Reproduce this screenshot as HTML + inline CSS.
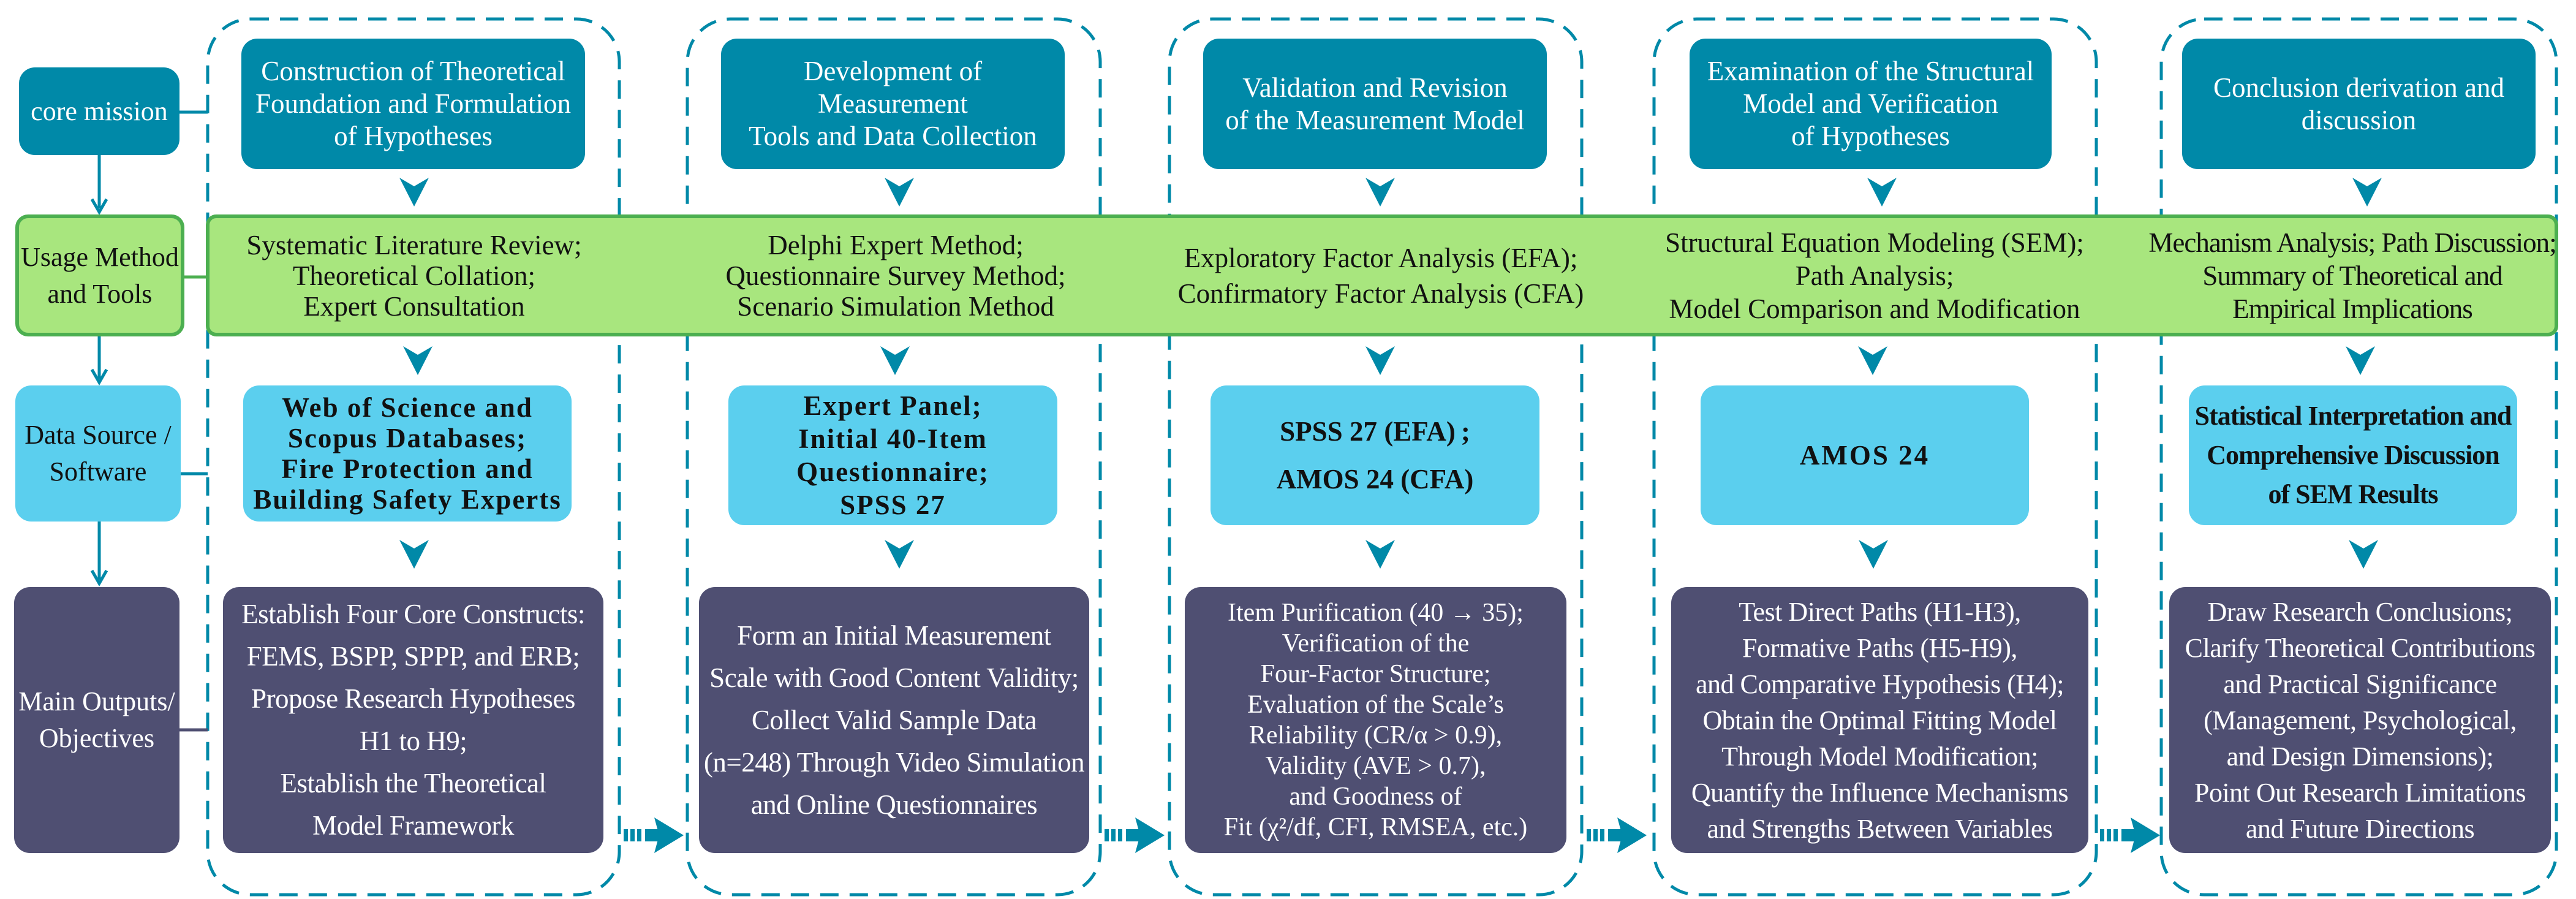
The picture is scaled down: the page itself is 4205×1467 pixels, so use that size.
<!DOCTYPE html>
<html><head><meta charset="utf-8"><style>
html,body{margin:0;padding:0;background:#fff}
body{width:4205px;height:1467px;position:relative;overflow:hidden;font-family:"Liberation Serif",serif}
.b{position:absolute;display:flex;align-items:center;justify-content:center;text-align:center;box-sizing:border-box;border-radius:26px}
.h{background:#0089a8;color:#fff;font-size:45px;line-height:53px}
.d{background:#5bcfee;color:#111;font-size:45px;line-height:50px;font-weight:bold;letter-spacing:2px}
.o{background:#4f4f72;color:#fff;font-size:45px;line-height:68px}
.g{position:absolute;display:flex;align-items:center;justify-content:center;text-align:center;font-size:45px;line-height:50px;color:#111}
svg{position:absolute;left:0;top:0}
</style></head><body>
<svg width="4205" height="1467" viewBox="0 0 4205 1467">
<defs>
<g id="chev"><path d="M-24,0 L0,14 L24,0 L0,47 Z" fill="#0089a8"/></g>
<g id="dar"><rect x="0" y="-10" width="7" height="20" fill="#0089a8"/><rect x="11" y="-10" width="7" height="20" fill="#0089a8"/><rect x="22" y="-10" width="7" height="20" fill="#0089a8"/><rect x="35" y="-10" width="24" height="20" fill="#0089a8"/><path d="M50,-29 L98,0 L50,29 L58,0 Z" fill="#0089a8"/></g>
</defs>
<g fill="none" stroke="#0089a8" stroke-width="5" stroke-dasharray="30 18">
<rect x="339" y="31" width="672" height="1429" rx="70"/>
<rect x="1122" y="31" width="674" height="1429" rx="70"/>
<rect x="1909" y="31" width="673" height="1429" rx="70"/>
<rect x="2700" y="31" width="722" height="1429" rx="70"/>
<rect x="3528" y="31" width="645" height="1429" rx="70"/>
</g>
<!-- left connectors -->
<line x1="293" y1="183" x2="339" y2="183" stroke="#0089a8" stroke-width="5"/>
<line x1="299" y1="452" x2="339" y2="452" stroke="#4caf50" stroke-width="5"/>
<line x1="295" y1="773" x2="339" y2="773" stroke="#0089a8" stroke-width="5"/>
<line x1="293" y1="1191" x2="339" y2="1191" stroke="#4f4f72" stroke-width="5"/>
<g stroke="#0089a8" stroke-width="5" fill="none">
<line x1="162" y1="253" x2="162" y2="340"/><polyline points="150,325 162,346 174,325"/>
<line x1="162" y1="547" x2="162" y2="618"/><polyline points="150,603 162,624 174,603"/>
<line x1="162" y1="851" x2="162" y2="946"/><polyline points="150,931 162,952 174,931"/>
</g>
<!-- green band -->
<rect x="339" y="353" width="3834" height="193" rx="14" fill="#a8e67e" stroke="#4caf50" stroke-width="6"/>
<rect x="28" y="353" width="270" height="193" rx="18" fill="#a8e67e" stroke="#4caf50" stroke-width="6"/>
<!-- chevrons -->
<use href="#chev" x="676" y="290"/><use href="#chev" x="682" y="565"/><use href="#chev" x="676" y="881"/>
<use href="#chev" x="1468" y="290"/><use href="#chev" x="1461" y="565"/><use href="#chev" x="1468" y="881"/>
<use href="#chev" x="2253" y="290"/><use href="#chev" x="2253" y="565"/><use href="#chev" x="2253" y="881"/>
<use href="#chev" x="3072" y="290"/><use href="#chev" x="3057" y="565"/><use href="#chev" x="3058" y="881"/>
<use href="#chev" x="3864" y="290"/><use href="#chev" x="3853" y="565"/><use href="#chev" x="3858" y="881"/>
<!-- dotted arrows -->
<use href="#dar" x="1018" y="1363"/>
<use href="#dar" x="1803" y="1363"/>
<use href="#dar" x="2590" y="1363"/>
<use href="#dar" x="3428" y="1363"/>
</svg>

<!-- left labels -->
<div class="b h" style="left:31px;top:110px;width:262px;height:143px;font-size:44px">core mission</div>
<div class="g" style="left:28px;top:353px;width:270px;height:193px;line-height:60px;font-size:44px">Usage Method<br>and Tools</div>
<div class="b d" style="left:25px;top:629px;width:270px;height:222px;font-weight:normal;letter-spacing:0;line-height:60px;font-size:44px">Data Source /<br>Software</div>
<div class="b o" style="left:23px;top:958px;width:270px;height:434px;line-height:60px;font-size:44px">Main Outputs/<br>Objectives</div>

<!-- headers -->
<div class="b h" style="left:394px;top:63px;width:561px;height:213px">Construction of Theoretical<br>Foundation and Formulation<br>of Hypotheses</div>
<div class="b h" style="left:1177px;top:63px;width:561px;height:213px">Development of<br>Measurement<br>Tools and Data Collection</div>
<div class="b h" style="left:1964px;top:63px;width:561px;height:213px">Validation and Revision<br>of the Measurement Model</div>
<div class="b h" style="left:2758px;top:63px;width:591px;height:213px">Examination of the Structural<br>Model and Verification<br>of Hypotheses</div>
<div class="b h" style="left:3562px;top:63px;width:577px;height:213px">Conclusion derivation and<br>discussion</div>

<!-- green texts -->
<div class="g" style="left:340px;top:353px;width:672px;height:193px">Systematic Literature Review;<br>Theoretical Collation;<br>Expert Consultation</div>
<div class="g" style="left:1122px;top:353px;width:680px;height:193px">Delphi Expert Method;<br>Questionnaire Survey Method;<br>Scenario Simulation Method</div>
<div class="g" style="left:1909px;top:353px;width:690px;height:193px;line-height:58px">Exploratory Factor Analysis (EFA);<br>Confirmatory Factor Analysis (CFA)</div>
<div class="g" style="left:2690px;top:353px;width:740px;height:193px;line-height:54px">Structural Equation Modeling (SEM);<br>Path Analysis;<br>Model Comparison and Modification</div>
<div class="g" style="left:3500px;top:353px;width:680px;height:193px;line-height:54px;letter-spacing:-1px">Mechanism Analysis; Path Discussion;<br>Summary of Theoretical and<br>Empirical Implications</div>

<!-- data boxes -->
<div class="b d" style="left:397px;top:629px;width:536px;height:222px">Web of Science and<br>Scopus Databases;<br>Fire Protection and<br>Building Safety Experts</div>
<div class="b d" style="left:1189px;top:629px;width:537px;height:228px;line-height:54px">Expert Panel;<br>Initial 40-Item<br>Questionnaire;<br>SPSS 27</div>
<div class="b d" style="left:1976px;top:629px;width:537px;height:228px;line-height:78px;letter-spacing:0">SPSS 27 (EFA)&thinsp;;<br>AMOS 24 (CFA)</div>
<div class="b d" style="left:2776px;top:629px;width:536px;height:228px;letter-spacing:3px">AMOS 24</div>
<div class="b d" style="left:3573px;top:629px;width:536px;height:228px;letter-spacing:-1px;line-height:64px;font-size:44px">Statistical Interpretation and<br>Comprehensive Discussion<br>of SEM Results</div>

<!-- output boxes -->
<div class="b o" style="left:364px;top:958px;width:621px;height:434px;line-height:69px;letter-spacing:-0.5px">Establish Four Core Constructs:<br>FEMS, BSPP, SPPP, and ERB;<br>Propose Research Hypotheses<br>H1 to H9;<br>Establish the Theoretical<br>Model Framework</div>
<div class="b o" style="left:1141px;top:958px;width:637px;height:434px;line-height:69px;letter-spacing:-0.5px">Form an Initial Measurement<br>Scale with Good Content Validity;<br>Collect Valid Sample Data<br>(n=248) Through Video Simulation<br>and Online Questionnaires</div>
<div class="b o" style="left:1934px;top:958px;width:623px;height:434px;line-height:50px;font-size:42px">Item Purification (40 → 35);<br>Verification of the<br>Four-Factor Structure;<br>Evaluation of the Scale’s<br>Reliability (CR/α &gt; 0.9),<br>Validity (AVE &gt; 0.7),<br>and Goodness of<br>Fit (χ²/df, CFI, RMSEA, etc.)</div>
<div class="b o" style="left:2728px;top:958px;width:681px;height:434px;line-height:59px;font-size:44px;letter-spacing:-0.5px">Test Direct Paths (H1-H3),<br>Formative Paths (H5-H9),<br>and Comparative Hypothesis (H4);<br>Obtain the Optimal Fitting Model<br>Through Model Modification;<br>Quantify the Influence Mechanisms<br>and Strengths Between Variables</div>
<div class="b o" style="left:3541px;top:958px;width:623px;height:434px;line-height:59px;font-size:44px;letter-spacing:-0.5px">Draw Research Conclusions;<br>Clarify Theoretical Contributions<br>and Practical Significance<br>(Management, Psychological,<br>and Design Dimensions);<br>Point Out Research Limitations<br>and Future Directions</div>
</body></html>
